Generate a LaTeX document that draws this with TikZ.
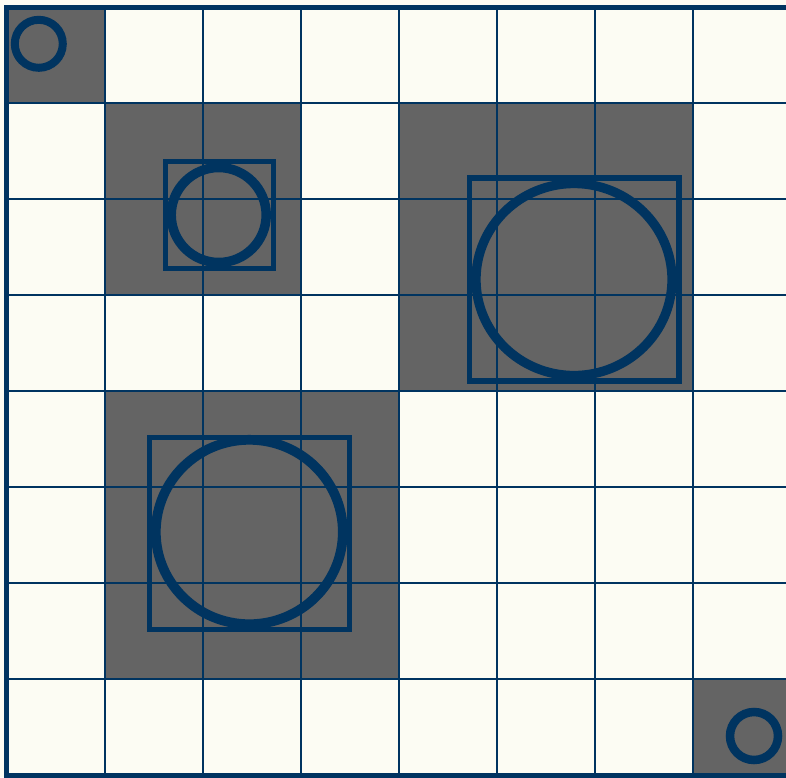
\documentclass[tikz,border=0pt]{standalone}
\definecolor{navy}{RGB}{0,52,96}
\definecolor{cellgray}{RGB}{100,100,100}
\definecolor{cream}{RGB}{252,252,243}
\begin{document}
\begin{tikzpicture}[x=1pt,y=-1pt,
  gridline/.style={draw=navy,line width=2pt},
  ring/.style={draw=navy},
  frame/.style={draw=navy,line width=5pt}]
\useasboundingbox (0,0) rectangle (786,777);
\clip (0,0) rectangle (786,777);
\fill[cream] (0,0) rectangle (786,777);
% gray cells
\fill[cellgray] (7,7.5) rectangle (105,104);
\fill[cellgray] (105,104) rectangle (301,295.5);
\fill[cellgray] (399,104) rectangle (693,391.5);
\fill[cellgray] (105,391.5) rectangle (399,679.5);
\fill[cellgray] (693,679.5) rectangle (791,775);
% grid lines
\foreach \i in {1,...,7} {
  \draw[gridline] ({7+98*\i},7.5) -- ({7+98*\i},775);
  \draw[gridline] (7,{7.5+95.93*\i}) -- (791,{7.5+95.93*\i});
}
% outer frame
\draw[frame] (6.8,7.5) rectangle (791,775);
% rings and boxes
\draw[ring,line width=8pt] (38.8,43.8) circle [radius=24];
\draw[ring,line width=8.5pt] (754,736) circle [radius=24];
\draw[ring,line width=5pt] (165.2,161.8) rectangle (273.5,268.2);
\draw[ring,line width=9.5pt] (218.7,215) circle [radius=47.5];
\draw[ring,line width=5.5pt] (469.5,177.8) rectangle (678.8,381.2);
\draw[ring,line width=9.3pt] (574,279.5) ellipse [x radius=98, y radius=96];
\draw[ring,line width=5pt] (149.2,437.5) rectangle (349.8,629.8);
\draw[ring,line width=9.7pt] (249.3,532) ellipse [x radius=93.5, y radius=92.2];
\end{tikzpicture}
\end{document}
